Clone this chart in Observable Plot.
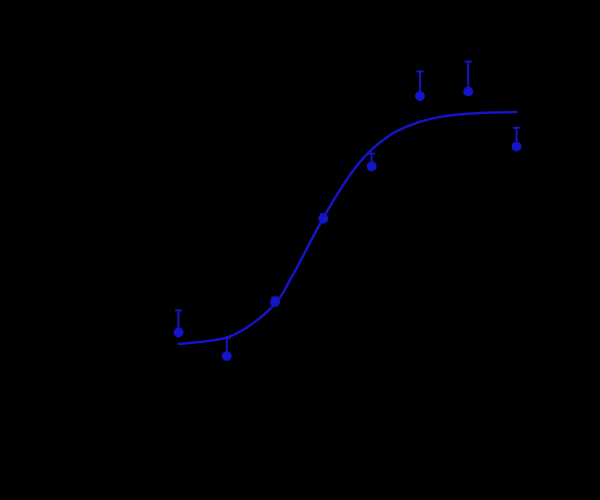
<!DOCTYPE html>
<html>
<head>
<meta charset="utf-8">
<script src="https://cdn.jsdelivr.net/npm/d3@7"></script>
<script src="https://cdn.jsdelivr.net/npm/@observablehq/plot@0.6"></script>
<style>
  html, body { margin: 0; padding: 0; background: #000; }
  #chart svg { display: block; background: #000; }
</style>
</head>
<body>
<div id="chart"></div>
<script>
// Measured points: log concentration, mean response (%), upper error (SEM)
const logDose   = [-10, -9, -8, -7, -6, -5, -4, -3];
const response  = [5.2, -5.0, 18.3, 54.2, 76.7, 107.1, 109.1, 85.3];
const errorUp   = [9.5, 7.8, 2.0, 2.0, 5.6, 10.6, 12.9, 8.1];

// Fitted curve
const curveX = [-10, -9.5, -9, -8.5, -8, -7.75, -7.5, -7.25, -7, -6.75, -6.5, -6.25, -6, -5.75, -5.5, -5, -4.5, -4, -3.5, -3];
const curveY = [0.2, 1.2, 3.0, 8.5, 17.5, 25.5, 35.0, 45.0, 54.5, 63.5, 71.5, 78.5, 84.0, 88.3, 91.8, 96.0, 98.4, 99.5, 100, 100.2];

const blue = "#1414c8";

const points = logDose.map((x, i) => ({x, y: response[i], top: response[i] + errorUp[i]}));
const curve = curveX.map((x, i) => ({x, y: curveY[i]}));

const capSymbol = {
  draw(context, size) {
    const w = Math.sqrt(size) / 2;
    context.moveTo(-w, 0);
    context.lineTo(w, 0);
  }
};

const chart = Plot.plot({
  width: 600,
  height: 500,
  marginLeft: 81.4,
  marginRight: 35.7,
  marginTop: 19.2,
  marginBottom: 63.2,
  style: {background: "#000", color: "#000"},
  x: {domain: [-12, -2], label: null},
  y: {domain: [-40, 140], label: null},
  marks: [
    Plot.axisX({stroke: "#000", fill: "#000"}),
    Plot.axisY({stroke: "#000", fill: "#000"}),
    Plot.line(curve, {x: "x", y: "y", stroke: blue, strokeWidth: 2.5, curve: "natural"}),
    Plot.ruleX(points, {x: "x", y1: "y", y2: "top", stroke: blue, strokeWidth: 2}),
    Plot.dot(points, {x: "x", y: "top", symbol: capSymbol, r: 4, stroke: blue, strokeWidth: 2, fill: "none"}),
    Plot.dot(points, {x: "x", y: "y", r: 4.2, fill: blue, stroke: blue})
  ]
});

document.getElementById("chart").appendChild(chart);
</script>
</body>
</html>
